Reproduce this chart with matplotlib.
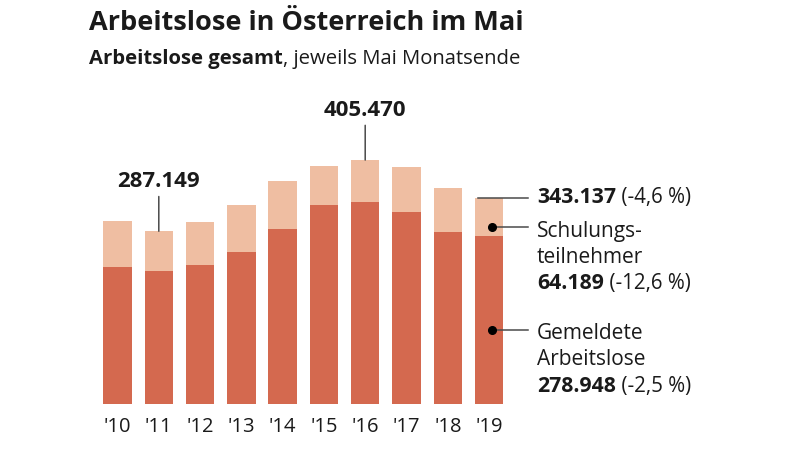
import numpy as np
import matplotlib
matplotlib.use("Agg")
import matplotlib.pyplot as plt

plt.rcParams['font.family'] = ['Open Sans', 'DejaVu Sans']

# Arbeitslose Ende Mai (2011/2016/2019 labelled)
years = ["'10", "'11", "'12", "'13", "'14", "'15", "'16", "'17", "'18", "'19"]
gemeldet = [227200, 221500, 231000, 252100, 290900, 330700, 335200, 318600, 286100, 278948]
schulung = [77400, 65649, 71000, 78600, 79200, 65400, 70270, 75800, 73500, 64189]

dark = '#d4694f'
light = '#efbea2'
ink = '#1a1a1a'
grey = '#4a4a4a'

totals = [g + s for g, s in zip(gemeldet, schulung)]
x = np.arange(len(years))

fig = plt.figure(figsize=(8, 4.52), dpi=100)
ax = fig.add_axes([0.1211, 0.104, 0.516, 0.5657])

ax.bar(x, gemeldet, width=0.69, color=dark)
ax.bar(x, schulung, width=0.69, bottom=gemeldet, color=light)

ax.set_xlim(-0.5, 9.5)
ax.set_ylim(0, 425000)
ax.set_xticks(x, years)
ax.tick_params(axis='x', length=0, pad=9, labelsize=14.5, labelcolor=ink)
ax.set_yticks([])
for s in ax.spines.values():
    s.set_visible(False)

# titles
fig.text(0.111, 0.949, "Arbeitslose in Österreich im Mai", fontsize=19.5,
         fontweight='bold', color=ink, va='center', ha='left')
t = fig.text(0.111, 0.870, "Arbeitslose gesamt", fontsize=14.6,
             fontweight='bold', color=ink, va='center', ha='left')
ax.annotate(", jeweils Mai Monatsende", xy=(1, 0), xycoords=t, va='bottom',
            ha='left', fontsize=14.6, color=ink)


def fmt(v):
    return f"{v:,}".replace(',', '.')


# callouts on 2011 and 2016
def top_label(i):
    ax.annotate("", xy=(x[i], totals[i]), xytext=(0, 25), textcoords='offset points',
                arrowprops=dict(arrowstyle='-', color=grey, lw=1.1,
                                shrinkA=0, shrinkB=0))
    ax.annotate(fmt(totals[i]), xy=(x[i], totals[i]),
                xytext=(0, 32.5), textcoords='offset points', ha='center',
                va='baseline', fontsize=16, fontweight='bold', color=ink,
                annotation_clip=False)


top_label(1)
top_label(6)

# right hand legend for 2019
last = len(years) - 1
tx = last + 1.16
lx0, lx1 = last - 0.27, last + 0.94
ax.plot([lx0, lx1], [totals[last]] * 2, color=grey, lw=1.1, clip_on=False)


def two_part(xv, yv, dy, bold, rest):
    b = ax.annotate(bold, xy=(xv, yv), xytext=(0, dy), textcoords='offset points',
                    ha='left', va='baseline', fontsize=15.3, fontweight='bold',
                    color=ink, annotation_clip=False)
    ax.annotate(rest, xy=(1, 0), xycoords=b, ha='left', va='bottom',
                fontsize=14.8, color=ink)


def plain(xv, yv, dy, s):
    ax.annotate(s, xy=(xv, yv), xytext=(0, dy), textcoords='offset points',
                ha='left', va='baseline', fontsize=15, color=ink,
                annotation_clip=False)


two_part(tx, totals[last], -3, fmt(totals[last]), " (-4,6 %)")

y_s = gemeldet[last] + 0.25 * schulung[last]
y_g = 0.44 * gemeldet[last]
for yv in (y_s, y_g):
    ax.plot([last + 0.07, lx1], [yv, yv], color=grey, lw=1.1, clip_on=False)
    ax.plot(last + 0.07, yv, 'o', color='black', ms=5.5, clip_on=False)

step = 19.0
plain(tx, y_s, -6.5, "Schulungs-")
plain(tx, y_s, -6.5 - step, "teilnehmer")
two_part(tx, y_s, -6.5 - 2 * step, fmt(schulung[last]), " (-12,6 %)")

plain(tx, y_g, -5.5, "Gemeldete")
plain(tx, y_g, -5.5 - step, "Arbeitslose")
two_part(tx, y_g, -5.5 - 2 * step, fmt(gemeldet[last]), " (-2,5 %)")

fig.savefig("out.png", dpi=100, facecolor='white')
